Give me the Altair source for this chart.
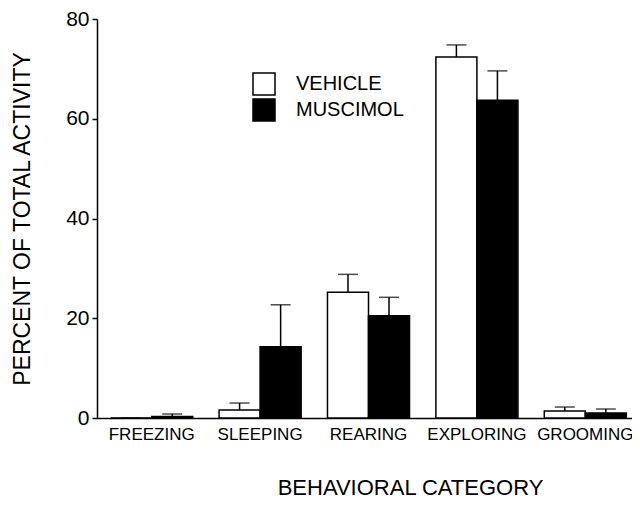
import altair as alt
import pandas as pd

categories = ["FREEZING", "SLEEPING", "REARING", "EXPLORING", "GROOMING"]
groups = ["VEHICLE", "MUSCIMOL"]
vehicle_mean = [0.0, 1.6, 25.2, 72.4, 1.4]
vehicle_sem = [0.0, 1.4, 3.6, 2.4, 0.8]
muscimol_mean = [0.3, 14.3, 20.5, 63.7, 1.0]
muscimol_sem = [0.5, 8.4, 3.7, 5.9, 0.8]
y_ticks = [0, 20, 40, 60, 80]

rows = []
for g, means, sems in [("VEHICLE", vehicle_mean, vehicle_sem), ("MUSCIMOL", muscimol_mean, muscimol_sem)]:
    for c, m, s in zip(categories, means, sems):
        rows.append({"category": c, "group": g, "mean": m, "upper": m + s})
df = pd.DataFrame(rows)

FONT = "Liberation Sans"

x_enc = alt.X(
    "category:N",
    sort=categories,
    scale=alt.Scale(paddingInner=0.243, paddingOuter=0.126, range=[0, 543]),
    axis=alt.Axis(
        title="BEHAVIORAL CATEGORY",
        labelAngle=0,
        ticks=False,
        labelPadding=8,
        labelFontSize=17,
        titleFontSize=22,
        titleX=313,
        titleY=76,
        titleAlign="center",
        titleBaseline="alphabetic",
        domainColor="black",
        domainWidth=1.5,
    ),
)
xoff = alt.XOffset("group:N", sort=groups, scale=alt.Scale(paddingInner=0, paddingOuter=0))
y_scale = alt.Scale(domain=[0, 80], nice=False, zero=True)

bars = alt.Chart(df).mark_bar(stroke="black", strokeWidth=1.5).encode(
    x=x_enc,
    xOffset=xoff,
    y=alt.Y(
        "mean:Q",
        scale=y_scale,
        axis=alt.Axis(
            title="PERCENT OF TOTAL ACTIVITY",
            values=y_ticks,
            grid=False,
            tickSize=5,
            tickColor="black",
            tickWidth=1.5,
            labelPadding=3,
            labelFontSize=21,
            titleFontSize=23,
            titlePadding=31,
            domainColor="black",
            domainWidth=1.5,
        ),
    ),
    fill=alt.Fill(
        "group:N",
        sort=groups,
        scale=alt.Scale(domain=groups, range=["white", "black"]),
        legend=alt.Legend(
            title=None,
            orient="none",
            legendX=155,
            legendY=53,
            symbolType="square",
            symbolSize=484,
            symbolStrokeColor="black",
            symbolStrokeWidth=1.5,
            labelFontSize=20,
            labelOffset=20,
            rowPadding=-2,
            padding=0,
        ),
    ),
)

err_rule = alt.Chart(df).mark_rule(color="black", strokeWidth=1.5).encode(
    x=alt.X("category:N", sort=categories),
    xOffset=xoff,
    y=alt.Y("mean:Q", scale=y_scale),
    y2="upper:Q",
)

err_cap = alt.Chart(df).mark_tick(color="black", thickness=1.5, size=20).encode(
    x=alt.X("category:N", sort=categories),
    xOffset=xoff,
    y=alt.Y("upper:Q", scale=y_scale),
)

chart = (
    alt.layer(bars, err_rule, err_cap)
    .properties(
        width=535,
        height=399,
        autosize=alt.AutoSizeParams(type="none"),
        padding={"left": 89, "top": 11, "right": 0, "bottom": 82},
    )
    .configure_view(stroke=None)
    .configure_axis(labelFont=FONT, titleFont=FONT, labelColor="black", titleColor="black", titleFontWeight="normal")
    .configure_legend(labelFont=FONT, labelColor="black")
)

chart.save("out.html", embed_options={"renderer": "svg", "actions": False})
